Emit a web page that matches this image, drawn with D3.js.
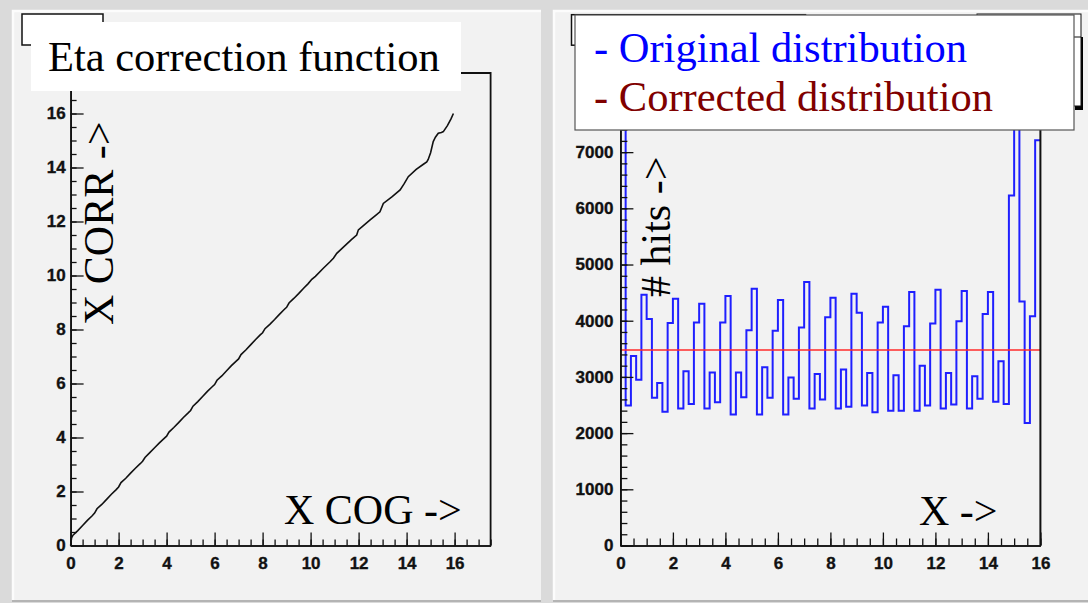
<!DOCTYPE html>
<html><head><meta charset="utf-8">
<script src="https://cdn.jsdelivr.net/npm/d3@7"></script>
<style>body{margin:0;background:#dadada;} svg{display:block}</style>
</head><body>
<script>
// ---------------- DATA ----------------
// Left: Eta correction function (X COG -> X CORR)
const corrX = [0, 0.04, 0.1, 0.3, 0.5, 0.7, 0.9, 1.0, 1.1, 1.3, 1.5, 1.7, 1.9, 2.0, 2.1, 2.3, 2.5, 2.7, 2.9, 3.0, 3.1, 3.3, 3.5, 3.7, 3.9, 4.0, 4.1, 4.3, 4.5, 4.7, 4.9, 5.0, 5.1, 5.3, 5.5, 5.7, 5.9, 6.0, 6.1, 6.3, 6.5, 6.7, 6.9, 7.0, 7.1, 7.3, 7.5, 7.7, 7.9, 8.0, 8.1, 8.3, 8.5, 8.7, 8.9, 9.0, 9.1, 9.3, 9.5, 9.7, 9.9, 10.05, 10.2, 10.53, 10.8, 10.95, 11.09, 11.4, 11.7, 11.92, 11.99, 12.2, 12.48, 12.7, 12.89, 13.03, 13.4, 13.73, 13.9, 14.07, 14.4, 14.7, 14.84, 14.9, 15.0, 15.11, 15.2, 15.32, 15.45, 15.53, 15.7, 15.85, 15.95];
const corrY = [0, 0.28, 0.38, 0.55, 0.74, 0.93, 1.1, 1.2, 1.36, 1.52, 1.71, 1.9, 2.07, 2.17, 2.33, 2.49, 2.68, 2.86, 3.03, 3.12, 3.26, 3.44, 3.62, 3.8, 3.97, 4.05, 4.2, 4.37, 4.55, 4.74, 4.91, 5.0, 5.16, 5.33, 5.52, 5.71, 5.88, 5.96, 6.12, 6.28, 6.47, 6.66, 6.83, 6.91, 7.07, 7.24, 7.43, 7.62, 7.8, 7.88, 8.03, 8.19, 8.37, 8.56, 8.74, 8.82, 8.98, 9.15, 9.33, 9.52, 9.7, 9.86, 9.97, 10.27, 10.5, 10.64, 10.82, 11.08, 11.33, 11.5, 11.69, 11.85, 12.06, 12.22, 12.36, 12.67, 12.92, 13.17, 13.4, 13.66, 13.93, 14.12, 14.21, 14.3, 14.55, 14.96, 15.12, 15.27, 15.3, 15.33, 15.55, 15.8, 16.0];
const leftXTicks = [0, 2, 4, 6, 8, 10, 12, 14, 16];
const leftYTicks = [0, 2, 4, 6, 8, 10, 12, 14, 16];

// Right: original distribution, 80 bins of width 0.2 over 0..16
const binWidth = 0.2;
const originalCounts = [10500, 2490, 3370, 2950, 4460, 4030,
  2630, 2890, 2380, 3960, 4390,
  2440, 3100, 2520, 3970, 4300,
  2440, 3080, 2550, 3970, 4440,
  2330, 3080, 2640, 3830, 4570,
  2330, 3170, 2630, 3820, 4370,
  2330, 2990, 2610, 3880, 4690,
  2440, 3050, 2600, 4060, 4410,
  2440, 3130, 2470, 4480, 4140,
  2490, 3070, 2370, 3970, 4250,
  2400, 3030, 2400, 3900, 4510,
  2400, 3200, 2490, 3950, 4550,
  2440, 3070, 2510, 3990, 4530,
  2440, 3010, 2610, 4120, 4510,
  2560, 3280, 2520, 6230, 10500,
  4340, 2180, 4080, 7210];
const correctedX = [0, 16];
const correctedY = [3480, 3480];
const rightXTicks = [0, 2, 4, 6, 8, 10, 12, 14, 16];
const rightYTicks = [0, 1000, 2000, 3000, 4000, 5000, 6000, 7000, 8000];

const legendLabels = ["- Original distribution", "- Corrected distribution"];

// ---------------- DRAW ----------------
const W = 1088, H = 603;
const svg = d3.select("body").append("svg").attr("width", W).attr("height", H);
svg.append("rect").attr("width", W).attr("height", H).attr("fill", "#dadada");

const SERIF = "'Liberation Serif','Times New Roman',serif";
const LBL = "'Liberation Sans',Arial,Helvetica,sans-serif";

function panel(x0, x1) {
  svg.append("rect").attr("x", x0).attr("y", 10).attr("width", x1 - x0).attr("height", 590).attr("fill", "#f2f2f2");
  svg.append("path").attr("d", `M${x0 + 1},600V11H${x1}`).attr("stroke", "#fcfcfc").attr("stroke-width", 2.5).attr("fill", "none");
  svg.append("path").attr("d", `M${x0},601H${x1}`).attr("stroke", "#b4b4b4").attr("stroke-width", 2).attr("fill", "none");
}
panel(12, 541);
panel(553, 1088);

function styleAxis(g) {
  g.attr("font-size", null).attr("font-family", null);
  g.selectAll("path.domain").attr("stroke", "#111").attr("stroke-width", 1.6);
  g.selectAll(".tick line").attr("stroke", "#111").attr("stroke-width", 1.3);
  g.selectAll("text").style("font-family", LBL).style("font-weight", "bold").style("font-size", "17px")
    .attr("fill", "#111").attr("stroke", "#111").attr("stroke-width", 0.35);
}

// ----- Left panel -----
const lx = d3.scaleLinear().domain([0, 17.5]).range([70.6, 490.6]);
const ly = d3.scaleLinear().domain([0, 17.5]).range([545.5, 73]);
const L = svg.append("g");

// stats box behind title
L.append("rect").attr("x", 22).attr("y", 14).attr("width", 81).attr("height", 31).attr("fill", "#fff").attr("stroke", "#111").attr("stroke-width", 1.5);

// frame (top/right)
L.append("path").attr("d", `M${lx(0)},${ly(17.5)}H${lx(17.5)}V${ly(0)}`).attr("fill", "none").attr("stroke", "#111").attr("stroke-width", 1.8);

// minor ticks
L.append("g").attr("transform", `translate(0,${ly(0)})`)
  .call(d3.axisBottom(lx).tickValues(d3.range(0, 17.51, 0.5)).tickSizeInner(-6).tickSizeOuter(0).tickFormat(""))
  .call(styleAxis);
L.append("g").attr("transform", `translate(${lx(0)},0)`)
  .call(d3.axisLeft(ly).tickValues(d3.range(0, 17.51, 0.5)).tickSizeInner(-6).tickSizeOuter(0).tickFormat(""))
  .call(styleAxis);
// major ticks
L.append("g").attr("transform", `translate(0,${ly(0)})`)
  .call(d3.axisBottom(lx).tickValues(leftXTicks).tickSizeInner(-13).tickSizeOuter(0).tickPadding(11).tickFormat(d3.format("d")))
  .call(styleAxis);
L.append("g").attr("transform", `translate(${lx(0)},0)`)
  .call(d3.axisLeft(ly).tickValues(leftYTicks).tickSizeInner(-13).tickSizeOuter(0).tickPadding(5).tickFormat(d3.format("d")))
  .call(styleAxis);

// curve
L.append("path").datum(d3.zip(corrX, corrY))
  .attr("d", d3.line().x(d => lx(d[0])).y(d => ly(d[1])))
  .attr("fill", "none").attr("stroke", "#111").attr("stroke-width", 1.6);

// title box
L.append("rect").attr("x", 31).attr("y", 22).attr("width", 430).attr("height", 69).attr("fill", "#fff");
L.append("text").attr("x", 48).attr("y", 70.5).attr("font-family", SERIF).attr("font-size", 42.5).attr("fill", "#000").text("Eta correction function");

L.append("text").attr("transform", "translate(113,325) rotate(-90)").attr("font-family", SERIF).attr("font-size", 42).attr("fill", "#000").text("X CORR ->");
L.append("text").attr("x", 284).attr("y", 524).attr("font-family", SERIF).attr("font-size", 42).attr("fill", "#000").text("X COG ->");

// ----- Right panel -----
const rx = d3.scaleLinear().domain([0, 16]).range([620.4, 1040.4]);
const ry = d3.scaleLinear().domain([0, 9200]).range([545.5, 28.5]);
const R = svg.append("g");

R.append("clipPath").attr("id", "rclip").append("rect")
  .attr("x", rx(0)).attr("y", ry(9200)).attr("width", rx(16) - rx(0)).attr("height", ry(0) - ry(9200));

// histogram
const histPts = originalCounts.map((v, i) => [i * binWidth, v]);
histPts.push([originalCounts.length * binWidth, originalCounts[originalCounts.length - 1]]);
R.append("path").datum(histPts).attr("clip-path", "url(#rclip)")
  .attr("d", d3.line().x(d => rx(d[0])).y(d => ry(d[1])).curve(d3.curveStepAfter))
  .attr("fill", "none").attr("stroke", "#1f1fff").attr("stroke-width", 2);

// corrected (flat)
R.append("path").datum(d3.zip(correctedX, correctedY))
  .attr("d", d3.line().x(d => rx(d[0])).y(d => ry(d[1])))
  .attr("fill", "none").attr("stroke", "#ff2a2a").attr("stroke-width", 1.5);

// frame right
R.append("path").attr("d", `M${rx(0)},${ry(9200)}H${rx(16)}V${ry(0)}`).attr("fill", "none").attr("stroke", "#111").attr("stroke-width", 2);

R.append("g").attr("transform", `translate(0,${ry(0)})`)
  .call(d3.axisBottom(rx).tickValues(d3.range(0, 16.01, 0.5)).tickSizeInner(-7).tickSizeOuter(0).tickFormat(""))
  .call(styleAxis);
R.append("g").attr("transform", `translate(${rx(0)},0)`)
  .call(d3.axisLeft(ry).tickValues(d3.range(0, 9201, 200)).tickSizeInner(-7).tickSizeOuter(0).tickFormat(""))
  .call(styleAxis);
R.append("g").attr("transform", `translate(0,${ry(0)})`)
  .call(d3.axisBottom(rx).tickValues(rightXTicks).tickSizeInner(-13).tickSizeOuter(0).tickPadding(11).tickFormat(d3.format("d")))
  .call(styleAxis);
R.append("g").attr("transform", `translate(${rx(0)},0)`)
  .call(d3.axisLeft(ry).tickValues(rightYTicks).tickSizeInner(-13).tickSizeOuter(0).tickPadding(7).tickFormat(d3.format("d")))
  .call(styleAxis);

R.append("text").attr("transform", "translate(670,297) rotate(-90)").attr("font-family", SERIF).attr("font-size", 42).attr("fill", "#000").text("# hits ->");
R.append("text").attr("x", 919).attr("y", 524.5).attr("font-family", SERIF).attr("font-size", 42).attr("fill", "#000").text("X ->");

// boxes behind legend
R.append("rect").attr("x", 571.5).attr("y", 14.7).attr("width", 234).attr("height", 30.5).attr("fill", "#fff").attr("stroke", "#111").attr("stroke-width", 1.5);
R.append("rect").attr("x", 1075).attr("y", 37).attr("width", 8).attr("height", 73).attr("fill", "#000");
R.append("rect").attr("x", 977).attr("y", 14).attr("width", 104).attr("height", 92).attr("fill", "#fff").attr("stroke", "#111").attr("stroke-width", 1);
R.append("line").attr("x1", 977).attr("x2", 1081).attr("y1", 37).attr("y2", 37).attr("stroke", "#111").attr("stroke-width", 1);

// legend
R.append("rect").attr("x", 575).attr("y", 15).attr("width", 499).attr("height", 115).attr("fill", "#fff").attr("stroke", "#555").attr("stroke-width", 1.2);
const legColors = ["#0000ff", "#800000"];
R.selectAll("text.leg").data(legendLabels).enter().append("text").attr("class", "leg")
  .attr("x", 594).attr("y", (d, i) => 62 + i * 49)
  .attr("font-family", SERIF).attr("font-size", 42.5).attr("fill", (d, i) => legColors[i]).text(d => d);
</script>
</body></html>
